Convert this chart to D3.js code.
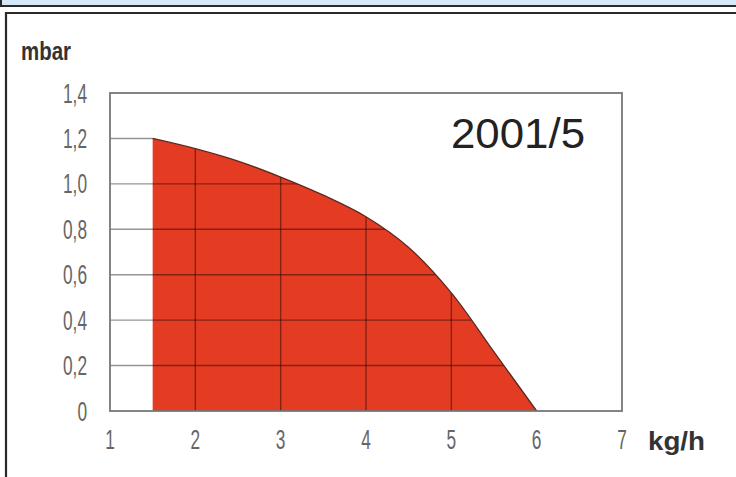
<!DOCTYPE html>
<html>
<head>
<meta charset="utf-8">
<script src="https://cdn.jsdelivr.net/npm/d3@7"></script>
<style>
  body { margin: 0; background: #fff; }
  svg { display: block; }
</style>
</head>
<body>
<script>
// data
var flow = [1.5, 2, 2.5, 3, 3.5, 4, 4.5, 5, 5.5, 6];
var pressure = [1.2, 1.155, 1.1, 1.03, 0.95, 0.855, 0.72, 0.52, 0.26, 0];
var xTicks = [1, 2, 3, 4, 5, 6, 7];
var yTicks = [0, 0.2, 0.4, 0.6, 0.8, 1.0, 1.2, 1.4];
var gridX = [2, 3, 4, 5];
var gridY = [0.2, 0.4, 0.6, 0.8, 1.0, 1.2];
var model = "2001/5";

var width = 736, height = 477;

var svg = d3.select("body").append("svg")
    .attr("width", width)
    .attr("height", height);

// top band and panel frame
svg.append("rect").attr("x", 0).attr("y", -2).attr("width", width + 2).attr("height", 8)
    .attr("fill", "#d4e8f8").attr("stroke", "#2a2a2a").attr("stroke-width", 2);
svg.append("rect").attr("x", 0).attr("y", 0).attr("width", 2).attr("height", 6).attr("fill", "#2a2a2a");
svg.append("path").attr("d", "M6," + (height + 2) + "V13H" + (width + 2))
    .attr("fill", "none").attr("stroke", "#2a2a2a").attr("stroke-width", 2.2);

var x = d3.scaleLinear().domain([1, 7]).range([110, 622]);
var y = d3.scaleLinear().domain([0, 1.4]).range([411, 93]);

var pts = flow.map(function (d, i) { return [d, pressure[i]]; });

var area = d3.area()
    .x(function (d) { return x(d[0]); })
    .y0(y(0))
    .y1(function (d) { return y(d[1]); })
    .curve(d3.curveCatmullRom.alpha(0.5));

var line = d3.line()
    .x(function (d) { return x(d[0]); })
    .y(function (d) { return y(d[1]); })
    .curve(d3.curveCatmullRom.alpha(0.5));

// clip: left strip plus area under curve
var clip = svg.append("defs").append("clipPath").attr("id", "gridclip");
clip.append("rect").attr("x", x(1)).attr("y", y(1.4))
    .attr("width", x(1.5) - x(1)).attr("height", y(0) - y(1.4));
clip.append("path").attr("d", area(pts));

svg.append("path").attr("d", area(pts)).attr("fill", "#e43b23");

var grid = svg.append("g").attr("clip-path", "url(#gridclip)");
grid.selectAll(".gy").data(gridY).enter().append("line")
    .attr("x1", x(1)).attr("x2", x(7))
    .attr("y1", function (d) { return y(d); })
    .attr("y2", function (d) { return y(d); })
    .attr("stroke", "#000").attr("stroke-opacity", 0.42).attr("stroke-width", 1.4);
grid.selectAll(".gx").data(gridX).enter().append("line")
    .attr("x1", function (d) { return x(d); })
    .attr("x2", function (d) { return x(d); })
    .attr("y1", y(0)).attr("y2", y(1.4))
    .attr("stroke", "#000").attr("stroke-opacity", 0.42).attr("stroke-width", 1.4);

svg.append("path").attr("d", line(pts))
    .attr("fill", "none").attr("stroke", "#5a2a22").attr("stroke-width", 1.3);

// plot frame
svg.append("rect").attr("x", x(1)).attr("y", y(1.4))
    .attr("width", x(7) - x(1)).attr("height", y(0) - y(1.4))
    .attr("fill", "none").attr("stroke", "#777").attr("stroke-width", 1.8);

// thin condensed tick labels
var tickFont = "'Liberation Sans', Arial, sans-serif";

svg.selectAll(".yl").data(yTicks).enter().append("g")
    .attr("transform", function (d) { return "translate(87," + (y(d) + 9.5) + ") scale(0.64,1)"; })
    .append("text")
    .attr("text-anchor", "end")
    .attr("font-family", tickFont).attr("font-size", 27)
    .attr("fill", "#666")
    .text(function (d) { return d === 0 ? "0" : d3.format(".1f")(d).replace(".", ","); });

svg.selectAll(".xl").data(xTicks).enter().append("g")
    .attr("transform", function (d) { return "translate(" + x(d) + ",449) scale(0.64,1)"; })
    .append("text")
    .attr("text-anchor", "middle")
    .attr("font-family", tickFont).attr("font-size", 27)
    .attr("fill", "#666")
    .text(function (d) { return d; });

svg.append("text").attr("x", 21).attr("y", 60)
    .attr("font-family", "'Liberation Sans', Arial, sans-serif").attr("font-size", 25)
    .attr("font-weight", "bold").attr("fill", "#333")
    .attr("textLength", 50).attr("lengthAdjust", "spacingAndGlyphs")
    .text("mbar");

svg.append("text").attr("x", 648).attr("y", 450)
    .attr("font-family", "'Liberation Sans', Arial, sans-serif").attr("font-size", 26)
    .attr("font-weight", "bold").attr("fill", "#333")
    .attr("textLength", 57).attr("lengthAdjust", "spacingAndGlyphs")
    .text("kg/h");

svg.append("text").attr("x", 451).attr("y", 148)
    .attr("font-family", "'Liberation Sans', Arial, sans-serif").attr("font-size", 42)
    .attr("fill", "#222")
    .attr("textLength", 134).attr("lengthAdjust", "spacingAndGlyphs")
    .text(model);
</script>
</body>
</html>
